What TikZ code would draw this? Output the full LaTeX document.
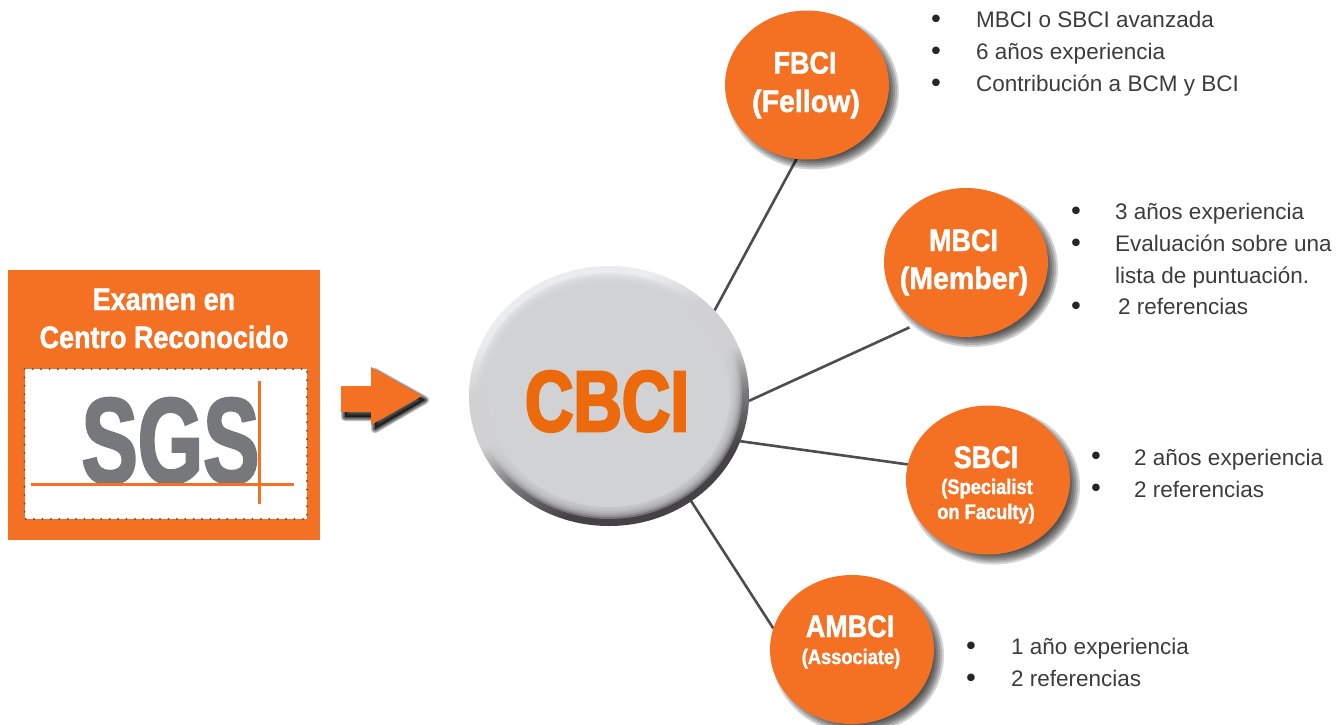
\documentclass[tikz,border=0pt]{standalone}
\usepackage{fontspec}
\setmainfont{Liberation Sans}
\newfontfamily\condfont[FakeStretch=0.87,FakeBold=1.5]{Liberation Sans Bold}
\newfontfamily\condwide[FakeStretch=0.92,FakeBold=1.5]{Liberation Sans Bold}
\newfontfamily\sgsfont[FakeStretch=0.69,FakeBold=2]{Liberation Sans Bold}
\newfontfamily\cbcifont[FakeStretch=0.78,FakeBold=3]{Liberation Sans Bold}
\newfontfamily\dotfont{DejaVu Sans}
\usetikzlibrary{shapes.geometric}
\definecolor{orangefill}{HTML}{F47023}
\definecolor{orangetext}{HTML}{EC6A0C}
\definecolor{linegray}{HTML}{4D4D4F}
\definecolor{bodytext}{HTML}{3C3C3E}
\definecolor{sgsgray}{HTML}{77787B}
\definecolor{ballflat}{HTML}{D1D2D4}
\definecolor{dotgray}{HTML}{58595B}
\pgfdeclareverticalshading{ballshade}{100bp}{
  rgb(0bp)=(.27,.26,.27); rgb(32bp)=(.27,.26,.27); rgb(41bp)=(.47,.47,.48);
  rgb(50bp)=(.82,.82,.83); rgb(60bp)=(.82,.82,.83); rgb(68bp)=(.92,.925,.93); rgb(100bp)=(.92,.925,.93)}
\pgfdeclarelayer{linelayer}
\pgfdeclarelayer{shadowlayer}
\pgfsetlayers{linelayer,shadowlayer,main}
\tikzset{
  orb/.style={ellipse,fill=orangefill,inner sep=0pt,outer sep=0pt,minimum width=164pt,minimum height=149pt},
  ball/.style={ellipse,shading=ballshade,shading angle=22,inner sep=0pt,outer sep=0pt,minimum width=280pt,minimum height=260pt},
  link/.style={draw=linegray,line width=2.6pt},
  big/.style={text=white,anchor=base,inner sep=0pt,font=\condfont\fontsize{31}{31}\selectfont},
  bigwide/.style={text=white,anchor=base,inner sep=0pt,font=\condwide\fontsize{31}{31}\selectfont},
  small/.style={text=white,anchor=base,inner sep=0pt,font=\condfont\fontsize{21}{21}\selectfont},
  item/.style={text=bodytext,anchor=base west,inner sep=0pt,font=\fontsize{22.5}{22.5}\selectfont},
  dot/.style={text=black!85,anchor=base,yshift=-9.5pt,inner sep=0pt,font=\dotfont\fontsize{26}{26}\selectfont},
}
\newcommand{\orbshadow}[1]{%
  \begin{pgfonlayer}{shadowlayer}
    \foreach \g in {-6,-4,-2,0,2,4}{
      \fill[black,opacity=.17] ([shift={(6pt,-6pt)}]#1.center) ellipse ({82pt+\g pt} and {74.5pt+\g pt});
    }
  \end{pgfonlayer}}
\begin{document}
\begin{tikzpicture}[x=1pt,y=-1pt]
\useasboundingbox (0,0) rectangle (1341,724);
% left box
\fill[orangefill] (8,270) rectangle (320,540);
\node[big] (t1) at (164,310) {Examen en};
\node[big] (t2) at (164,348) {Centro Reconocido};
\fill[white] (24.5,369) rectangle (307,519);
\draw[dotgray,line width=2.3pt,line cap=round,dash pattern=on 0pt off 8.4pt] (24.5,369) rectangle (307,519);
\node[text=sgsgray,anchor=base,inner sep=0pt,font=\sgsfont\fontsize{122}{122}\selectfont] (sgs) at (170.5,483) {SGS};
\fill[white] (40,485) rectangle (290,500);
\coordinate (hl) at (31,484.5); \coordinate (hr) at (294,484.5);
\coordinate (vt) at (259.3,381); \coordinate (vb) at (259.3,504);
\draw[orangefill,line width=2.6pt] (hl) -- (hr);
\draw[orangefill,line width=2.6pt] (vt) -- (vb);
% block arrow
\foreach \w in {8,6,4,2}{
  \draw[black,fill=black,opacity=.24,line width=\w pt,line join=round]
    (345,391) -- (375,391) -- (375,372) -- (425,400) -- (375,429) -- (375,417) -- (345,417) -- cycle;
}
\fill[orangefill] (341,386) -- (371,386) -- (371,367) -- (422,396) -- (371,425) -- (371,412) -- (341,412) -- cycle;
% central ball
\node[ball] (cbci) at (609,396) {};
\foreach \g in {7,9,...,17}{
  \fill[ballflat,opacity=.35] (cbci.center) ellipse ({140pt-\g pt} and {130pt-\g pt});
}
\fill[ballflat] (cbci.center) ellipse (121pt and 111pt);
\node[text=orangetext,anchor=base,inner sep=0pt,font=\cbcifont\fontsize{86}{86}\selectfont] (cbcilabel) at (607,431) {CBCI};
% orbs
\node[orb] (fbci) at (807,85) {};
\node[orb] (mbci) at (966,262.5) {};
\node[orb] (sbci) at (988,480) {};
\node[orb] (ambci) at (852,649.5) {};
\orbshadow{fbci}\orbshadow{mbci}\orbshadow{sbci}\orbshadow{ambci}
% connectors
\begin{pgfonlayer}{linelayer}
\draw[link] (cbci.39) -- (fbci.262);
\draw[link,shorten >=10pt] (cbci.-2.4) -- (mbci.232);
\draw[link] (cbci.-19.7) -- (sbci.169.5);
\draw[link] (cbci.-52.5) -- (ambci.165);
\end{pgfonlayer}
% orb labels
\node[big] (l1) at (805,73.5) {FBCI};
\node[bigwide] (l2) at (806,112) {(Fellow)};
\node[big] (l3) at (963.5,251) {MBCI};
\node[bigwide] (l4) at (964,289) {(Member)};
\node[big] (l5) at (986,468) {SBCI};
\node[small] (l6) at (987,494) {(Specialist};
\node[small] (l7) at (986,519) {on Faculty)};
\node[big] (l8) at (850,637) {AMBCI};
\node[small] (l9) at (851,664) {(Associate)};
% lists
\node[dot] (b1) at (936,19) {•};  \node[item] (i1) at (976,27) {MBCI o SBCI avanzada};
\node[dot] (b2) at (936,51) {•};  \node[item] (i2) at (976,59) {6 años experiencia};
\node[dot] (b3) at (936,83) {•};  \node[item] (i3) at (976,91) {Contribución a BCM y BCI};
\node[dot] (b4) at (1076,211) {•}; \node[item] (i4) at (1115,219) {3 años experiencia};
\node[dot] (b5) at (1076,243) {•}; \node[item] (i5) at (1115,251) {Evaluación sobre una};
\node[item] (i6) at (1115,283.5) {lista de puntuación.};
\node[dot] (b6) at (1076,306) {•}; \node[item] (i7) at (1118,314.5) {2 referencias};
\node[dot] (b7) at (1096,456) {•}; \node[item] (i8) at (1134,465) {2 años experiencia};
\node[dot] (b8) at (1096,488) {•}; \node[item] (i9) at (1134,497) {2 referencias};
\node[dot] (b9) at (971,646) {•}; \node[item] (i10) at (1011,654) {1 año experiencia};
\node[dot] (b10) at (971,678) {•}; \node[item] (i11) at (1011,686) {2 referencias};
\end{tikzpicture}
\end{document}
